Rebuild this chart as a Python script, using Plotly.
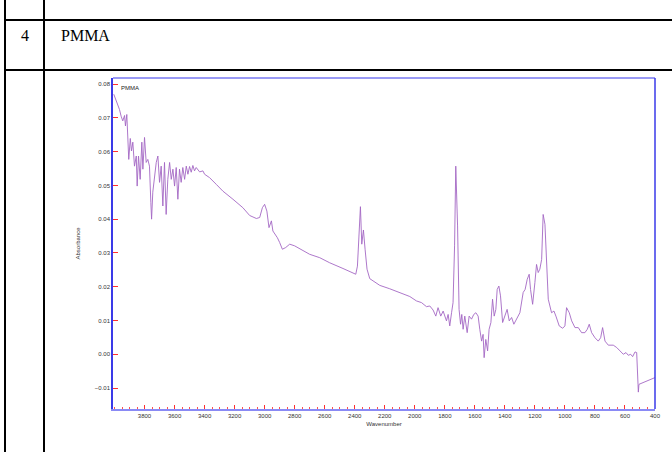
import plotly.graph_objects as go

# FTIR absorbance spectrum of PMMA
wavenumber = [
    4005, 3989, 3978, 3967, 3956, 3945, 3933, 3927, 3918, 3911, 3905, 3895, 3887, 3878,
    3867, 3855, 3849, 3840, 3829, 3818, 3811, 3800, 3789, 3778, 3767, 3758, 3753, 3745,
    3733, 3722, 3711, 3700, 3689, 3678, 3667, 3656, 3645, 3633, 3622, 3611, 3600, 3589,
    3578, 3567, 3556, 3545, 3533, 3522, 3511, 3500, 3489, 3478, 3467, 3456, 3433, 3411,
    3400, 3367, 3322, 3278, 3211, 3145, 3100, 3055, 3033, 3015, 3000, 2985, 2971, 2955,
    2945, 2927, 2915, 2900, 2882, 2860, 2833, 2800, 2767, 2700, 2633, 2567, 2478, 2393,
    2382, 2371, 2362, 2353, 2342, 2331, 2318, 2300, 2278, 2233, 2167, 2100, 2033, 1989,
    1955, 1922, 1900, 1878, 1860, 1845, 1827, 1811, 1789, 1778, 1767, 1755, 1745, 1735,
    1727, 1715, 1705, 1695, 1687, 1678, 1667, 1651, 1638, 1622, 1607, 1593, 1578, 1567,
    1555, 1545, 1538, 1527, 1515, 1505, 1493, 1482, 1471, 1460, 1451, 1440, 1429, 1415,
    1400, 1385, 1371, 1355, 1340, 1322, 1300, 1278, 1265, 1251, 1238, 1229, 1215, 1200,
    1189, 1178, 1167, 1155, 1145, 1133, 1122, 1111, 1089, 1073, 1060, 1038, 1015, 1000,
    989, 971, 955, 933, 911, 889, 867, 851, 838, 822, 800, 778, 762, 749,
    733, 711, 678, 655, 633, 611, 593, 578, 562, 549, 533, 522, 513, 511,
    507, 400,
]
absorbance = [
    0.0770, 0.0750, 0.0740, 0.0725, 0.0705, 0.0691, 0.0707, 0.0676, 0.0710, 0.0631, 0.0577, 0.0639, 0.0602, 0.0628,
    0.0557, 0.0587, 0.0498, 0.0587, 0.0518, 0.0628, 0.0548, 0.0642, 0.0568, 0.0577, 0.0557, 0.0450, 0.0400, 0.0480,
    0.0528, 0.0568, 0.0587, 0.0509, 0.0557, 0.0439, 0.0568, 0.0414, 0.0518, 0.0568, 0.0518, 0.0548, 0.0498, 0.0553,
    0.0459, 0.0548, 0.0509, 0.0553, 0.0518, 0.0557, 0.0533, 0.0556, 0.0539, 0.0559, 0.0543, 0.0553, 0.0540, 0.0543,
    0.0533, 0.0523, 0.0503, 0.0483, 0.0459, 0.0434, 0.0411, 0.0402, 0.0405, 0.0434, 0.0444, 0.0424, 0.0375, 0.0395,
    0.0365, 0.0355, 0.0345, 0.0331, 0.0311, 0.0316, 0.0326, 0.0321, 0.0313, 0.0296, 0.0286, 0.0271, 0.0254, 0.0237,
    0.0261, 0.0370, 0.0437, 0.0326, 0.0368, 0.0311, 0.0252, 0.0224, 0.0217, 0.0204, 0.0194, 0.0183, 0.0171, 0.0158,
    0.0153, 0.0141, 0.0143, 0.0131, 0.0113, 0.0138, 0.0113, 0.0128, 0.0099, 0.0118, 0.0084, 0.0123, 0.0153, 0.0321,
    0.0557, 0.0380, 0.0133, 0.0089, 0.0118, 0.0074, 0.0113, 0.0064, 0.0113, 0.0104, 0.0118, 0.0123, 0.0113, 0.0074,
    0.0039, 0.0059, -0.0010, 0.0044, 0.0010, 0.0074, 0.0094, 0.0163, 0.0113, 0.0133, 0.0192, 0.0202, 0.0173, 0.0094,
    0.0113, 0.0133, 0.0099, 0.0109, 0.0089, 0.0104, 0.0123, 0.0183, 0.0192, 0.0222, 0.0237, 0.0192, 0.0148, 0.0212,
    0.0266, 0.0242, 0.0252, 0.0281, 0.0414, 0.0385, 0.0281, 0.0163, 0.0123, 0.0128, 0.0113, 0.0084, 0.0077, 0.0084,
    0.0138, 0.0123, 0.0099, 0.0079, 0.0079, 0.0064, 0.0064, 0.0074, 0.0089, 0.0064, 0.0049, 0.0039, 0.0049, 0.0079,
    0.0039, 0.0027, 0.0027, 0.0020, 0.0010, 0.0000, 0.0005, -0.0003, 0.0000, -0.0007, 0.0007, 0.0005, -0.0089, -0.0112,
    -0.0089, -0.0069,
]

x_ticks = list(range(3800, 399, -200))
y_ticks = [0.08, 0.07, 0.06, 0.05, 0.04, 0.03, 0.02, 0.01, 0.00, -0.01]

row_number = "4"
sample_name = "PMMA"

W, H = 672, 452
L, R, T, B = 113, 655, 78, 409


def px(x):
    return (x - L) / (R - L)


def py(y):
    return (B - y) / (B - T)


fig = go.Figure()
fig.add_trace(go.Scatter(
    x=wavenumber, y=absorbance, mode="lines",
    line=dict(color="#a468c4", width=0.9), hoverinfo="skip", showlegend=False,
))

tick_font = dict(family="Liberation Sans, Arial, sans-serif", size=6, color="#333333")

fig.update_layout(
    width=W, height=H,
    margin=dict(l=L, r=W - R, t=T, b=H - B, pad=0),
    paper_bgcolor="white", plot_bgcolor="white",
    xaxis=dict(
        range=[4010, 400], tickvals=x_ticks, showgrid=False, zeroline=False,
        showline=True, linecolor="#8a8af5", linewidth=2, mirror=False,
        ticks="inside", ticklen=4, tickcolor="#ff3030", tickwidth=1,
        minor=dict(dtick=50, ticks="inside", ticklen=2, tickcolor="#ff5050", tickwidth=1),
        tickfont=tick_font,
        title=dict(text="Wavenumber", font=tick_font, standoff=4),
    ),
    yaxis=dict(
        range=[-0.0162, 0.0818], tickvals=y_ticks, tickformat=".2f",
        showgrid=False, zeroline=False,
        showline=True, linecolor="#3a3ae8", linewidth=1.5, mirror=False,
        ticks="inside", ticklen=5, tickcolor="#ff3030", tickwidth=1,
        tickfont=tick_font,
        title=dict(text="Absorbance", font=tick_font, standoff=14),
    ),
    font=dict(family="Liberation Sans, Arial, sans-serif"),
)

shapes = []
# plot frame: top and right edges
shapes.append(dict(type="line", xref="paper", yref="paper", x0=0, x1=1, y0=1, y1=1,
                   line=dict(color="#9a9af5", width=2)))
shapes.append(dict(type="line", xref="paper", yref="paper", x0=1, x1=1, y0=0, y1=1,
                   line=dict(color="#3a3ae8", width=1.5)))
# table rules of the surrounding document
for xv in (5, 44):
    shapes.append(dict(type="line", xref="paper", yref="paper",
                       x0=px(xv), x1=px(xv), y0=py(0), y1=py(H),
                       line=dict(color="black", width=2)))
for yv in (20, 70):
    shapes.append(dict(type="line", xref="paper", yref="paper",
                       x0=px(5), x1=px(W), y0=py(yv), y1=py(yv),
                       line=dict(color="black", width=2)))
fig.update_layout(shapes=shapes)

serif = dict(family="Liberation Serif, Times New Roman, serif", size=16, color="black")
fig.add_annotation(text=row_number, xref="paper", yref="paper", x=px(24.5), y=py(35),
                   xanchor="center", yanchor="middle", showarrow=False, font=serif)
fig.add_annotation(text=sample_name, xref="paper", yref="paper", x=px(59), y=py(35),
                   xanchor="left", yanchor="middle", showarrow=False, font=serif)
fig.add_annotation(text=sample_name, xref="paper", yref="paper", x=px(119), y=py(88),
                   xanchor="left", yanchor="middle", showarrow=False,
                   font=dict(family="Liberation Sans, Arial, sans-serif", size=6, color="#222222"))

fig.write_html("out.html")
